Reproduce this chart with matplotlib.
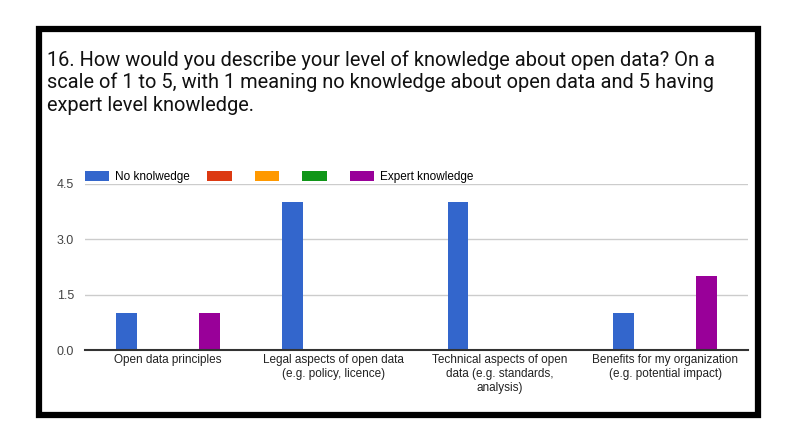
import matplotlib.pyplot as plt
from matplotlib.patches import Rectangle
import numpy as np

# survey answers per topic (count of respondents per knowledge level)
categories = ['Open data principles',
              'Legal aspects of open data\n(e.g. policy, licence)',
              'Technical aspects of open\ndata (e.g. standards,\nanalysis)',
              'Benefits for my organization\n(e.g. potential impact)']
no_knowledge = [1, 4, 4, 1]
level_2 = [0, 0, 0, 0]
level_3 = [0, 0, 0, 0]
level_4 = [0, 0, 0, 0]
expert = [1, 0, 0, 2]

series_labels = ['No knolwedge', '', '', '', 'Expert knowledge']
colors = ['#3366cc', '#dc3912', '#ff9900', '#109618', '#990099']
yticks = [0.0, 1.5, 3.0, 4.5]

title = ('16. How would you describe your level of knowledge about open data? On a\n'
         'scale of 1 to 5, with 1 meaning no knowledge about open data and 5 having\n'
         'expert level knowledge.')

W, H = 800, 444
fig = plt.figure(figsize=(W / 100, H / 100), dpi=100)

#outer black frame around the screenshot
fig.patches.append(Rectangle((39 / W, 1 - 415 / H), (758 - 39) / W, (415 - 29) / H,
                             transform=fig.transFigure, fill=False,
                             edgecolor='black', linewidth=4.5))

fig.text(47 / W, 1 - 50 / H, title, family='Roboto', fontsize=14.4,
         va='top', ha='left', linespacing=1.22, color='#111111')

ax = fig.add_axes([85 / W, 1 - 350 / H, (748 - 85) / W, (350 - 184) / H])

x = np.arange(len(categories))
width = 0.125
all_series = [no_knowledge, level_2, level_3, level_4, expert]
handles = []
for i, vals in enumerate(all_series):
    b = ax.bar(x + (i - 2) * width, vals, width, color=colors[i], label=series_labels[i])
    handles.append(b)

ax.set_xlim(-0.5, 3.5)
ax.set_ylim(0, 4.5)
ax.set_yticks(yticks)
ax.set_yticklabels([f'{v:.1f}' for v in yticks], family='Liberation Sans', fontsize=9, color='#444444')
ax.set_xticks(x)
ax.set_xticklabels(categories, family='Liberation Sans', fontsize=8.5, color='#222222', linespacing=1.2)
ax.tick_params(axis='both', length=0)
ax.tick_params(axis='x', pad=3)
ax.tick_params(axis='y', pad=8)

ax.grid(axis='y', color='#cccccc', linewidth=1)
ax.set_axisbelow(True)
for s in ['top', 'right', 'left']:
    ax.spines[s].set_visible(False)
ax.spines['bottom'].set_linewidth(1.5)
ax.spines['bottom'].set_color('#333333')
ax.spines['bottom'].set_zorder(3)

fig.legend(handles, series_labels, loc='center left', bbox_to_anchor=(85 / W, 1 - 177 / H),
           ncol=5, frameon=False, prop={'family': 'Liberation Sans', 'size': 8.5},
           handlelength=2.07, handleheight=0.9, handletextpad=0.5, columnspacing=1.45,
           borderpad=0, borderaxespad=0)

fig.savefig('out.png', dpi=100, facecolor='white')
